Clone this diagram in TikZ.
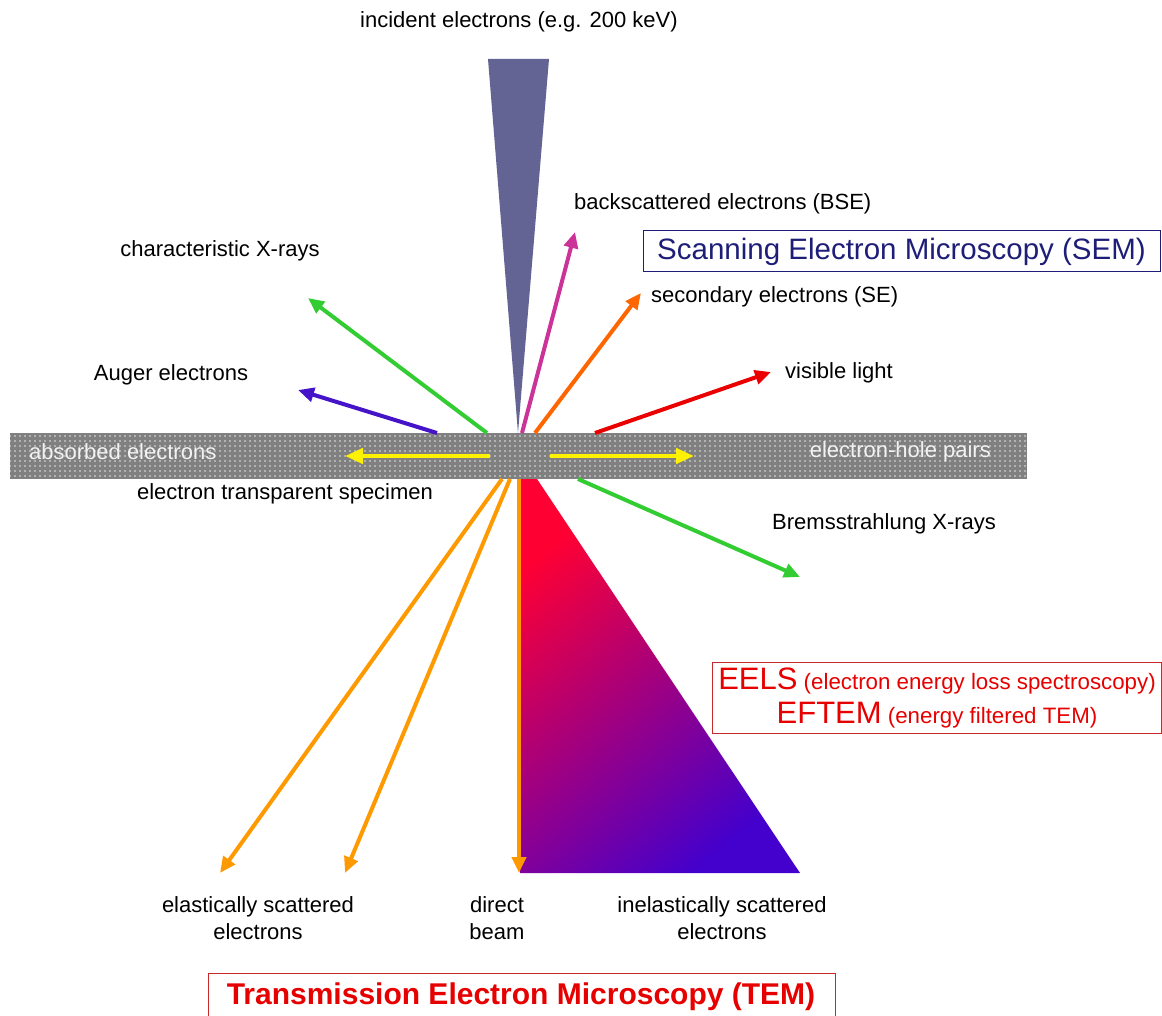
\documentclass[tikz,border=0pt]{standalone}
\usepackage{fontspec}
\setmainfont{Liberation Sans}
\usetikzlibrary{arrows.meta,patterns.meta}

\definecolor{beamblue}{RGB}{99,99,148}
\definecolor{bsemag}{RGB}{204,51,153}
\definecolor{seorange}{RGB}{255,102,0}
\definecolor{lightred}{RGB}{235,0,0}
\definecolor{xgreen}{RGB}{51,204,51}
\definecolor{augerblue}{RGB}{70,20,200}
\definecolor{elorange}{RGB}{255,153,0}
\definecolor{inelred}{RGB}{255,0,51}
\definecolor{inelblue}{RGB}{68,0,204}
\definecolor{semnavy}{RGB}{30,30,120}
\definecolor{temred}{RGB}{230,0,0}
\definecolor{boxred}{RGB}{200,40,40}

\tikzset{
  ray/.style={line width=4pt, -{Triangle[length=16pt,width=14pt]}},
  flow/.style={line width=4.5pt, yellow, -{Triangle[length=18pt,width=15pt]}},
  lbl/.style={inner sep=0pt, align=center, font=\fontsize{22}{27}\selectfont},
  bandlbl/.style={lbl, text=white!90!gray},
}

\begin{document}
\begin{tikzpicture}[x=1pt,y=-1pt]
    \useasboundingbox (0,0) rectangle (1162,1016);
    % specimen
    \fill [gray] (10,433) rectangle (1027,479);
    \fill [pattern={Dots[distance=5pt,radius=0.9pt]}, pattern color=white!80!gray] (10,433) rectangle (1027,479);
    \node [bandlbl, anchor=west] (absorbed) at (29,452) {absorbed electrons};
    \node [bandlbl, anchor=east] (pairs) at (991,452) {electron-hole pairs};
    \node [lbl] (specimen) at (285,494) {electron transparent specimen};
    % incident beam
    \fill [beamblue] (488,59) -- (549,59) -- (518,433) -- cycle;
    \node [lbl] (incident) at (519,22) {incident electrons (e.g. 200 keV)};
    % start and end points
    \coordinate (bse-s) at (522,433);
    \coordinate (bse-e) at (575,232);
    \coordinate (se-s) at (535,433);
    \coordinate (se-e) at (641,293);
    \coordinate (vis-s) at (595,433);
    \coordinate (vis-e) at (771,372);
    \coordinate (xray-s) at (487,433);
    \coordinate (xray-e) at (308,298);
    \coordinate (auger-s) at (437,433);
    \coordinate (auger-e) at (298,390);
    \coordinate (brems-s) at (578,479);
    \coordinate (brems-e) at (800,577);
    \coordinate (elas1-s) at (502,479);
    \coordinate (elas1-e) at (220,873);
    \coordinate (elas2-s) at (510,479);
    \coordinate (elas2-e) at (345,873);
    \coordinate (direct-s) at (519,479);
    \coordinate (direct-e) at (519,873);
    \coordinate (abs-s) at (490,456);
    \coordinate (abs-e) at (345,456);
    \coordinate (pair-s) at (550,456);
    \coordinate (pair-e) at (694,456);
    % inelastic cone
    \shade [top color=inelred, bottom color=inelblue, shading angle=40]
        (520,479) -- (537,479) -- (800,873) -- (520,873) -- cycle;
    % rays
    \draw [ray, bsemag] (bse-s) -- (bse-e);
    \draw [ray, seorange] (se-s) -- (se-e);
    \draw [ray, lightred] (vis-s) -- (vis-e);
    \draw [ray, xgreen] (xray-s) -- (xray-e);
    \draw [ray, augerblue] (auger-s) -- (auger-e);
    \draw [ray, xgreen] (brems-s) -- (brems-e);
    \draw [ray, elorange] (elas1-s) -- (elas1-e);
    \draw [ray, elorange] (elas2-s) -- (elas2-e);
    \draw [ray, elorange] (direct-s) -- (direct-e);
    \draw [flow] (abs-s) -- (abs-e);
    \draw [flow] (pair-s) -- (pair-e);
    % labels
    \node [lbl, anchor=west] (bse) at (574,204) {backscattered electrons (BSE)};
    \node [lbl, anchor=west] (se) at (651,297) {secondary electrons (SE)};
    \node [lbl, anchor=west] (vis) at (785,373) {visible light};
    \node [lbl] (xray) at (220,251) {characteristic X-rays};
    \node [lbl] (auger) at (171,375) {Auger electrons};
    \node [lbl, anchor=west] (brems) at (772,524) {Bremsstrahlung X-rays};
    \node [lbl] (elastic) at (258,918) {elastically scattered\\electrons};
    \node [lbl] (direct) at (497,918) {direct\\beam};
    \node [lbl] (inelastic) at (722,918) {inelastically scattered\\electrons};
    % boxes
    \node [draw=semnavy, line width=1pt, minimum width=517pt, minimum height=41pt, inner sep=0pt,
        text=semnavy, font=\fontsize{29.5}{34}\selectfont] (sem) at (901.5,251.5) {Scanning Electron Microscopy (SEM)};
    \node [draw=boxred, line width=1pt, minimum width=449pt, minimum height=71pt, inner sep=0pt,
        text=temred, align=center, font=\fontsize{22.3}{34}\selectfont] (eels) at (937,697.5)
        {{\fontsize{31}{34}\selectfont EELS} (electron energy loss spectroscopy)\\
         {\fontsize{31}{34}\selectfont EFTEM} (energy filtered TEM)};
    \draw [boxred, line width=1pt] (208,973) rectangle (835,1030);
    \node [text=temred, inner sep=0pt, font=\bfseries\fontsize{30}{34}\selectfont] (tem) at (521,997)
        {Transmission Electron Microscopy (TEM)};
\end{tikzpicture}
\end{document}
